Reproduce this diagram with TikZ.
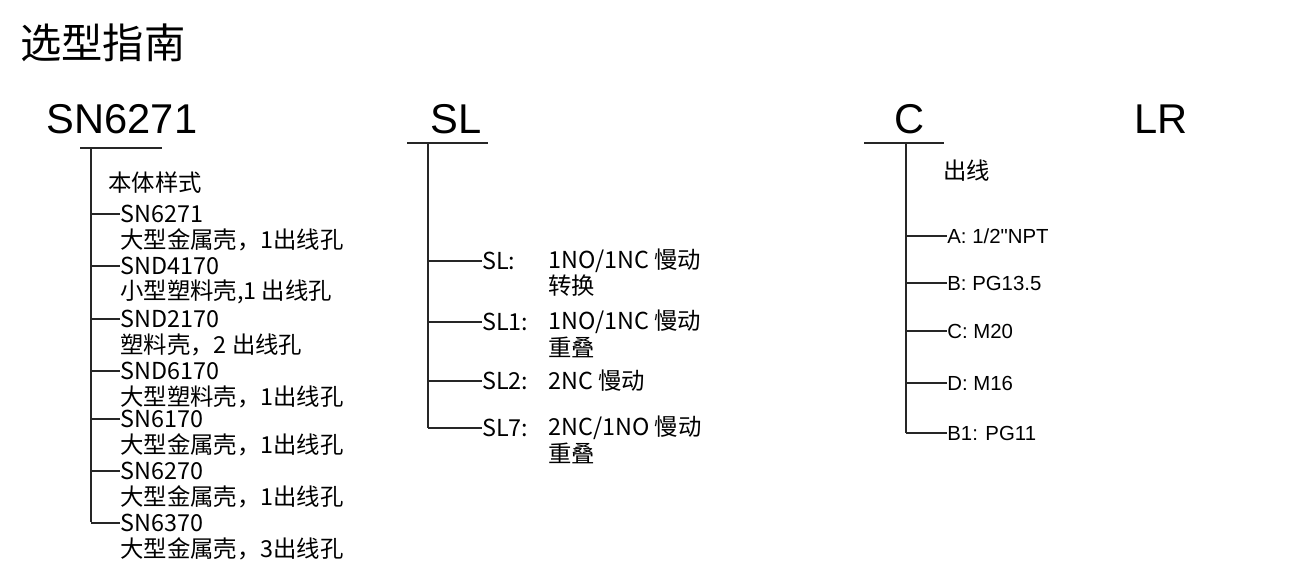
\documentclass[tikz,border=0pt]{standalone}
\usepackage{fontspec}
\setmainfont{Noto Sans CJK SC}
\newfontfamily\lat{Liberation Sans}
\begin{document}
\begin{tikzpicture}[x=0.02cm,y=-0.02cm,
  line/.style={line width=1.3pt,black!85},
  big/.style={font=\lat\fontsize{23.7}{26}\selectfont,inner sep=0pt},
  sm/.style={font=\fontsize{13.3}{14}\selectfont,inner sep=0pt,anchor=west},
  sml/.style={font=\lat\fontsize{11.6}{13}\selectfont,inner sep=0pt,anchor=west}]
\useasboundingbox (0,0) rectangle (1292,581);
\node[font=\fontsize{23.5}{26}\selectfont,inner sep=0pt,anchor=west] (title) at (20,43) {选型指南};
\node[big] (t1) at (122,119) {SN6271};
\node[big] (t2) at (456,119) {SL};
\node[big] (t3) at (910,119) {C};
\node[big] (t4) at (1161,119) {LR};
\coordinate (u1a) at (80,148); \coordinate (u1b) at (162,148);
\coordinate (u2a) at (407,143); \coordinate (u2b) at (488,143);
\coordinate (u3a) at (864,143); \coordinate (u3b) at (944,143);
\draw[line] (u1a)--(u1b); \draw[line] (u2a)--(u2b); \draw[line] (u3a)--(u3b);
\coordinate (v1) at (91,148); \coordinate (v1e) at (91,522);
\coordinate (v2) at (428,143); \coordinate (v2e) at (428,428);
\coordinate (v3) at (906,143); \coordinate (v3e) at (906,433);
\draw[line] (v1)--(v1e); \draw[line] (v2)--(v2e); \draw[line] (v3)--(v3e);
\node[sm] (h1) at (108,183) {本体样式};
\foreach \y/\a/\b [count=\i] in {214/SN6271/{大型金属壳，1出线孔},266/SND4170/{小型塑料壳,1 出线孔},319/SND2170/{塑料壳，2 出线孔},371/SND6170/{大型塑料壳，1出线孔},419/SN6170/{大型金属壳，1出线孔},471/SN6270/{大型金属壳，1出线孔},523/SN6370/{大型金属壳，3出线孔}}{
  \coordinate (la\i) at (91,\y);
  \node[sm] (l\i) at (120,\y) {\a};
  \node[sm] (lb\i) at (120,\y+26) {\b};
  \draw[line] (la\i)--(l\i.west);
}
\node[sm] (h3) at (943,171) {出线};
\foreach \y/\a [count=\i] in {236/{A: 1/2"NPT},283/{B: PG13.5},331/{C: M20},383/{D: M16},433/{B1: PG11}}{
  \coordinate (ca\i) at (906,\y);
  \node[sml] (c\i) at (947,\y) {\a};
  \draw[line] (ca\i)--(c\i.west);
}
\foreach \y/\a/\b/\c [count=\i] in {261/{SL:}/{1NO/1NC 慢动}/转换,322/{SL1:}/{1NO/1NC 慢动}/重叠,381/{SL2:}/{}/{},428/{SL7:}/{2NC/1NO 慢动}/重叠}{
  \coordinate (sa\i) at (428,\y);
  \node[sm] (s\i) at (482,\y) {\a};
  \node[sm] (sv\i) at (548,\y) {\b};
  \node[sm] (sw\i) at (548,\y+25) {\c};
  \draw[line] (sa\i)--(s\i.west);
}
\node[sm] (s3b) at (548,381) {2NC 慢动};
\end{tikzpicture}
\end{document}
